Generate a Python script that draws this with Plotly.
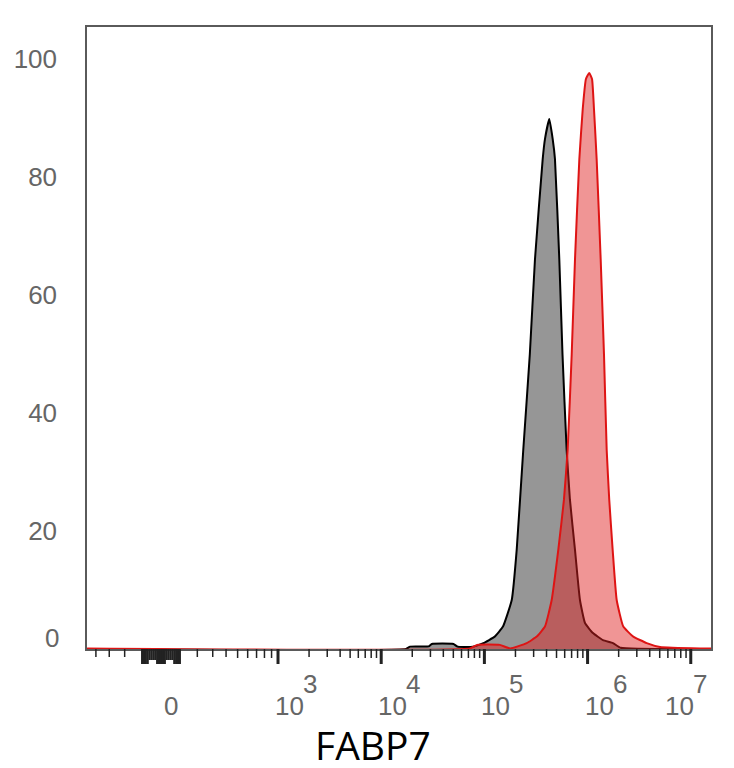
"""
FABP7 flow cytometry histogram (control vs stained), biexponential-style x axis
"""

import numpy as np
import plotly.graph_objects as go

# --- Data (x in display decades, i.e. ~log10 of intensity; y in % of max) ---
control_x = [1.15, 4.24, 4.28, 4.46, 4.49, 4.70, 4.74, 4.89, 4.99, 5.10, 5.18, 5.265,
             5.313, 5.377, 5.44, 5.49, 5.565, 5.587, 5.629, 5.662, 5.684, 5.726,
             5.757, 5.797, 5.829, 5.878, 5.926, 5.975, 6.052, 6.149, 6.246, 6.32, 7.2]
control_y = [0, 0, 0.4, 0.45, 0.85, 0.85, 0.4, 0.4, 1.0, 2.1, 3.8, 8.3,
             16.8, 33.8, 49.9, 66.0, 83.0, 86.4, 89.8, 86.4, 83.0, 66.0,
             49.9, 33.8, 25.3, 16.8, 8.3, 4.4, 2.7, 1.5, 1.0, 0.2, 0]

fabp7_x = [1.15, 4.86, 4.93, 5.15, 5.25, 5.41, 5.507, 5.587, 5.652, 5.716, 5.771,
           5.807, 5.846, 5.878, 5.920, 5.953, 5.984, 6.016, 6.043, 6.062, 6.088,
           6.127, 6.159, 6.185, 6.210, 6.243, 6.282, 6.346, 6.443, 6.573, 6.702,
           7.09, 7.2]
fabp7_y = [0.1, 0.1, 0.7, 0.7, 0.1, 1.0, 2.1, 3.8, 8.3, 16.8, 25.3,
           33.8, 49.9, 66.0, 83.0, 91.5, 96.6, 97.6, 96.6, 91.5, 83.0,
           66.0, 49.9, 33.8, 25.3, 16.8, 8.3, 3.8, 2.1, 1.0, 0.34,
           0.1, 0.1]

decades = [3, 4, 5, 6, 7]
y_ticks = [20, 40, 60, 80, 100]

X_RANGE = [1.149, 7.196]
Y_RANGE = [0, 105.4]
ZERO_POS = 1.866  # display position of 0 in the linear part of the scale


def low_pos(v):
    # linear-ish region of the biexponential scale, |v| <= 1000
    return ZERO_POS + (3 - ZERO_POS) * np.arcsinh(v / 340) / np.arcsinh(1000 / 340)


TICK_COLOR = "#222222"
LABEL_COLOR = "#666666"
PLOT_H = 622  # pixel height of the plot area
PLOT_W = 624

fig = go.Figure()

fig.add_trace(go.Scatter(
    x=control_x, y=control_y, mode="lines", fill="tozeroy",
    line=dict(color="black", width=2, shape="spline", smoothing=0.4),
    fillcolor="rgb(150,150,150)", showlegend=False,
))
fig.add_trace(go.Scatter(
    x=fabp7_x, y=fabp7_y, mode="lines", fill="tozeroy",
    line=dict(color="rgb(222,20,20)", width=2, shape="spline", smoothing=0.4),
    fillcolor="rgba(223,34,34,0.48)", showlegend=False,
))

# --- x axis tick marks (drawn by hand, the scale is not a plain log) ---
def add_tick(pos, length, width):
    fig.add_shape(type="line", xref="x", yref="paper",
                  x0=pos, x1=pos, y0=0, y1=-length / PLOT_H,
                  line=dict(color=TICK_COLOR, width=width))


for k in decades:
    add_tick(k, 15, 3)
    if k < 7:
        for m in range(2, 10):
            add_tick(k + np.log10(m), 8 if m < 5 else 9, 1.5)

# 200..900 and the mirrored negative side
for v in range(200, 1000, 100):
    add_tick(low_pos(v), 8 if v < 500 else 9, 1.5)
    p = low_pos(-v)
    if p > X_RANGE[0]:
        add_tick(p, 8, 1.5)

# dense ticks around zero
for v in range(-100, 101, 10):
    long_tick = abs(v) >= 70 or abs(v) <= 20
    add_tick(low_pos(v), 15 if long_tick else 11, 2.2)

# --- x tick labels ---
label_font = dict(family="Liberation Sans, Arial", size=26, color=LABEL_COLOR)
fig.add_annotation(x=low_pos(0), y=-57 / PLOT_H, xref="x", yref="paper",
                   text="0", showarrow=False, xanchor="left", yanchor="middle",
                   xshift=1, font=label_font)
for k in decades:
    shift = -28 if k == 7 else -5
    fig.add_annotation(x=k, y=-57 / PLOT_H, xref="x", yref="paper",
                       text="10", showarrow=False, xanchor="left", yanchor="middle",
                       xshift=shift, font=label_font)
    fig.add_annotation(x=k, y=-35 / PLOT_H, xref="x", yref="paper",
                       text=str(k), showarrow=False, xanchor="left", yanchor="middle",
                       xshift=shift + 28, font=label_font)

# y "0" label sits a little above the baseline
fig.add_annotation(x=0, y=0, xref="paper", yref="y", text="0", showarrow=False,
                   xanchor="right", yanchor="middle", xshift=-26, yshift=11,
                   font=label_font)

# axis title (box kept tight so it stays inside the page)
fig.add_annotation(x=(373 - 87) / PLOT_W, y=-95 / PLOT_H, xref="paper", yref="paper",
                   text="FABP7", showarrow=False, xanchor="center", yanchor="middle",
                   height=36, valign="middle",
                   font=dict(family="Open Sans", size=39, color="black"))

fig.update_xaxes(range=X_RANGE, showticklabels=False, ticks="", showgrid=False,
                 zeroline=False, showline=True, mirror=True, automargin=False,
                 linecolor="#5a5a5a", linewidth=1.5)
fig.update_yaxes(range=Y_RANGE, tickvals=y_ticks, ticks="", showgrid=False,
                 zeroline=False, showline=True, mirror=True, automargin=False,
                 linecolor="#5a5a5a", linewidth=1.5,
                 ticklabelstandoff=23, tickfont=label_font)

# the page adds an 8 px body margin, so the figure is a bit smaller than the window
fig.update_layout(
    width=718, height=760,
    margin=dict(l=79, r=15, t=19, b=119, autoexpand=False),
    plot_bgcolor="white", paper_bgcolor="white",
)

fig.write_html("out.html")
